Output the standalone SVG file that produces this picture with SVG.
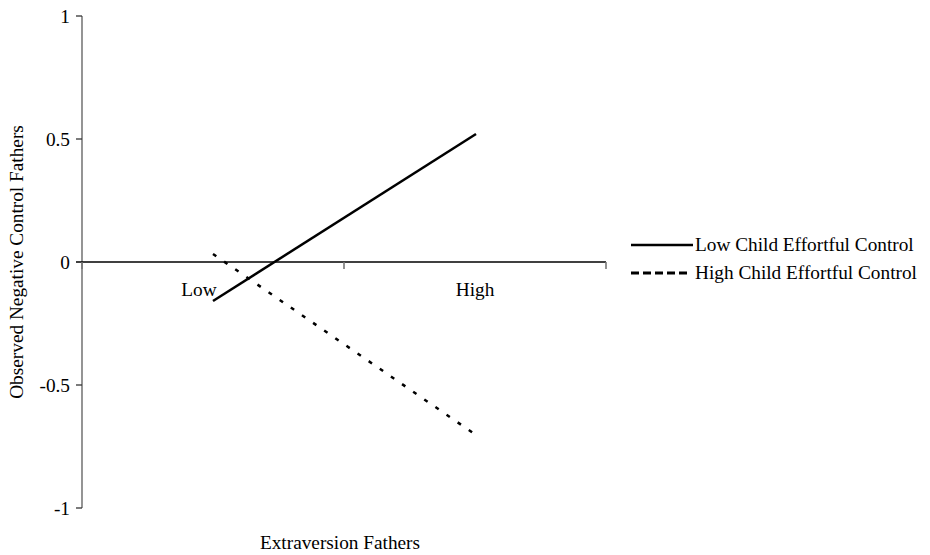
<svg xmlns="http://www.w3.org/2000/svg" width="930" height="555" viewBox="0 0 930 555">
  <style>
    text { font-family: "Liberation Serif", "Times New Roman", serif; font-size: 19.3px; fill: #000; }
    .ylab { text-anchor: end; }
    .mid { text-anchor: middle; }
    .yaxis { stroke: #7a7a7a; stroke-width: 1.6; fill: none; }
    .xaxis { stroke: #000; stroke-width: 1.3; fill: none; }
    .tick { stroke: #333; stroke-width: 1.3; }
    .xtick { stroke: #777; stroke-width: 1.6; }
    .solid { stroke: #000; stroke-width: 2.5; fill: none; }
    .dotted { stroke: #000; stroke-width: 2.5; fill: none; stroke-dasharray: 4 9.5; }
    .legdash { stroke: #000; stroke-width: 2.8; fill: none; stroke-dasharray: 8 4; }
  </style>
  <rect width="930" height="555" fill="#fff"/>
  <g id="y-axis">
    <line class="yaxis" x1="82" y1="16" x2="82" y2="508"/>
    <line class="tick" x1="76" y1="16" x2="82" y2="16"/>
    <line class="tick" x1="76" y1="139" x2="82" y2="139"/>
    <line class="tick" x1="76" y1="385" x2="82" y2="385"/>
    <line class="tick" x1="76" y1="508" x2="82" y2="508"/>
    <text class="ylab" x="70" y="22.5">1</text>
    <text class="ylab" x="70" y="145.5">0.5</text>
    <text class="ylab" x="70" y="268.5">0</text>
    <text class="ylab" x="70" y="391.5">-0.5</text>
    <text class="ylab" x="70" y="514.5">-1</text>
    <text class="mid" transform="translate(23,262) rotate(-90)">Observed Negative Control Fathers</text>
  </g>
  <g id="x-axis">
    <line class="xaxis" x1="76" y1="262" x2="606" y2="262"/>
    <line class="xtick" x1="82" y1="262" x2="82" y2="269"/>
    <line class="xtick" x1="344" y1="262" x2="344" y2="269"/>
    <line class="xtick" x1="606" y1="262" x2="606" y2="269"/>
    <text class="mid" x="199" y="296">Low</text>
    <text class="mid" x="475" y="296">High</text>
    <text class="mid" x="340" y="549">Extraversion Fathers</text>
  </g>
  <g id="series">
    <line id="low-ec" class="solid" x1="213" y1="301" x2="476" y2="134"/>
    <line id="high-ec" class="dotted" x1="213" y1="254" x2="476" y2="435"/>
  </g>
  <g id="legend">
    <line class="solid" x1="631" y1="245" x2="693" y2="245"/>
    <text x="695" y="251">Low Child Effortful Control</text>
    <line class="legdash" x1="631" y1="273" x2="687" y2="273"/>
    <text x="695" y="279">High Child Effortful Control</text>
  </g>
</svg>
